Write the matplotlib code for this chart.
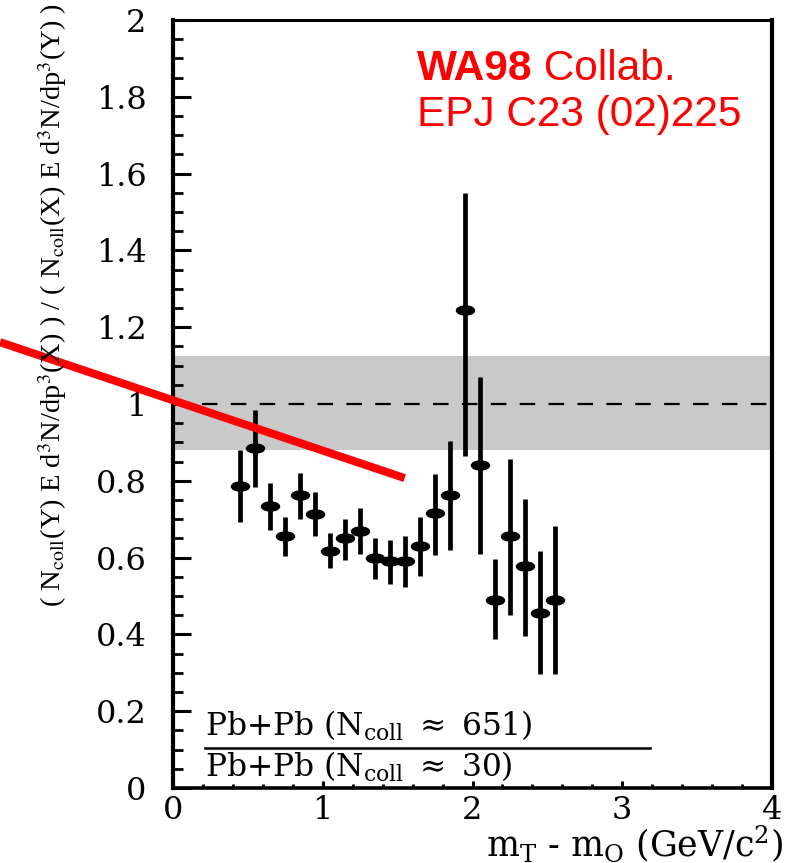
import matplotlib
matplotlib.use("Agg")
import matplotlib.pyplot as plt
from matplotlib.path import Path
from matplotlib.transforms import Affine2D
from matplotlib.ticker import MultipleLocator, FuncFormatter

# ratio Pb+Pb central / peripheral
mt = [0.45, 0.55, 0.65, 0.75, 0.85, 0.95, 1.05, 1.15, 1.25, 1.35, 1.45,
      1.55, 1.65, 1.75, 1.85, 1.95, 2.05, 2.15, 2.25, 2.35, 2.45, 2.55]
ratio = [0.787, 0.885, 0.734, 0.657, 0.763, 0.714, 0.618, 0.650, 0.670, 0.600, 0.590,
         0.590, 0.630, 0.715, 0.762, 1.246, 0.842, 0.490, 0.656, 0.577, 0.456, 0.490]
err_top = [0.880, 0.985, 0.793, 0.706, 0.821, 0.771, 0.663, 0.700, 0.728, 0.652, 0.647,
           0.656, 0.707, 0.819, 0.904, 1.550, 1.070, 0.597, 0.857, 0.753, 0.617, 0.681]
err_bot = [0.693, 0.784, 0.672, 0.604, 0.700, 0.656, 0.572, 0.595, 0.609, 0.543, 0.530,
           0.524, 0.553, 0.606, 0.620, 0.865, 0.610, 0.388, 0.450, 0.397, 0.297, 0.297]

# systematic band around unity
band = [0.88, 1.125]

# red overlay line (data coordinates, runs off the axes to the left)
red_x = [-1.155, 1.547]
red_y = [1.161, 0.807]

W, H = 785, 863


def fx(x):
    return x / W


def fy(y):
    return 1 - y / H


plt.rcParams['mathtext.fontset'] = 'custom'
plt.rcParams['mathtext.rm'] = 'DejaVu Serif'
plt.rcParams['mathtext.it'] = 'DejaVu Serif'

fig = plt.figure(figsize=(W / 100, H / 100), dpi=100)
ax = fig.add_axes([fx(173), fy(788), fx(772) - fx(173), fy(20) - fy(788)])

ax.axhspan(band[0], band[1], color='#c9c9c9', lw=0, zorder=0)
ax.axhline(1.0, color='black', lw=1.6, ls=(0, (7, 6)), zorder=1)

ellipse = Path.unit_circle().transformed(Affine2D().scale(1.0, 0.5))
yerr = [[r - b for r, b in zip(ratio, err_bot)],
        [t - r for r, t in zip(ratio, err_top)]]
ax.errorbar(mt, ratio, yerr=yerr, fmt='none', ecolor='black', elinewidth=3.4,
            capsize=0, zorder=3)
ax.plot(mt, ratio, ls='none', marker=ellipse, ms=13, color='black', zorder=4)

ax.plot(red_x, red_y, color='#ff0000', lw=5.8, solid_capstyle='butt',
        clip_on=False, zorder=5)

ax.set_xlim(0, 4)
ax.set_ylim(0, 2)
ax.xaxis.set_major_locator(MultipleLocator(1))
ax.xaxis.set_minor_locator(MultipleLocator(0.2))
ax.yaxis.set_major_locator(MultipleLocator(0.2))
ax.yaxis.set_minor_locator(MultipleLocator(0.05))
ax.yaxis.set_major_formatter(FuncFormatter(lambda v, p: f"{v:.1f}".rstrip('0').rstrip('.')))
ax.xaxis.set_major_formatter(FuncFormatter(lambda v, p: f"{v:g}"))

ax.tick_params(axis='y', which='major', direction='in', length=13, width=2.2,
               pad=19, labelsize=23, right=False)
ax.tick_params(axis='y', which='minor', direction='in', length=7, width=2.0, right=False)
ax.tick_params(axis='x', which='major', direction='in', length=5, width=2.2,
               pad=5, labelsize=23, top=False)
ax.tick_params(axis='x', which='minor', direction='in', length=3, width=2.0, top=False)
for lab in ax.get_xticklabels() + ax.get_yticklabels():
    lab.set_fontfamily('DejaVu Serif')

for side, lw in [('left', 3.0), ('bottom', 2.6), ('top', 2.2), ('right', 3.0)]:
    ax.spines[side].set_linewidth(lw)

# y-axis label
fig.text(fx(53), fy(305),
         r"( N$_{\rm coll}$(Y) E d$^3$N/dp$^3$(X) ) / ( N$_{\rm coll}$(X) E d$^3$N/dp$^3$(Y) )",
         rotation=90, ha='center', va='center', fontsize=20.5, family='Liberation Serif',
         math_fontfamily='stix')

# x-axis label
fig.text(fx(783), fy(856), r"m$_{\rm T}$ - m$_{\rm O}$ (GeV/c$^2$)",
         ha='right', va='baseline', fontsize=25, family='DejaVu Serif')

# centrality ratio annotation
fig.text(fx(205), fy(736), r"Pb+Pb (N$_{\rm coll}$ $\approx$ 651)",
         ha='left', va='baseline', fontsize=22.5, family='DejaVu Serif')
fig.text(fx(205), fy(777), r"Pb+Pb (N$_{\rm coll}$ $\approx$ 30)",
         ha='left', va='baseline', fontsize=22.5, family='DejaVu Serif')
fig.add_artist(plt.Line2D([fx(205), fx(650)], [fy(748), fy(748)], color='black', lw=1.8))

# red reference text
t1 = fig.text(fx(417), fy(80), "WA98", ha='left', va='baseline', fontsize=30.5,
              fontweight='bold', color='#ff0000', family='Liberation Sans')
ax.annotate(" Collab.", xy=(1, 0), xycoords=t1, ha='left', va='bottom',
            fontsize=30.5, color='#ff0000', family='Liberation Sans')
fig.text(fx(417), fy(126), "EPJ C23 (02)225", ha='left', va='baseline', fontsize=30.5,
         color='#ff0000', family='Liberation Sans')

fig.savefig('out.png', dpi=100)
